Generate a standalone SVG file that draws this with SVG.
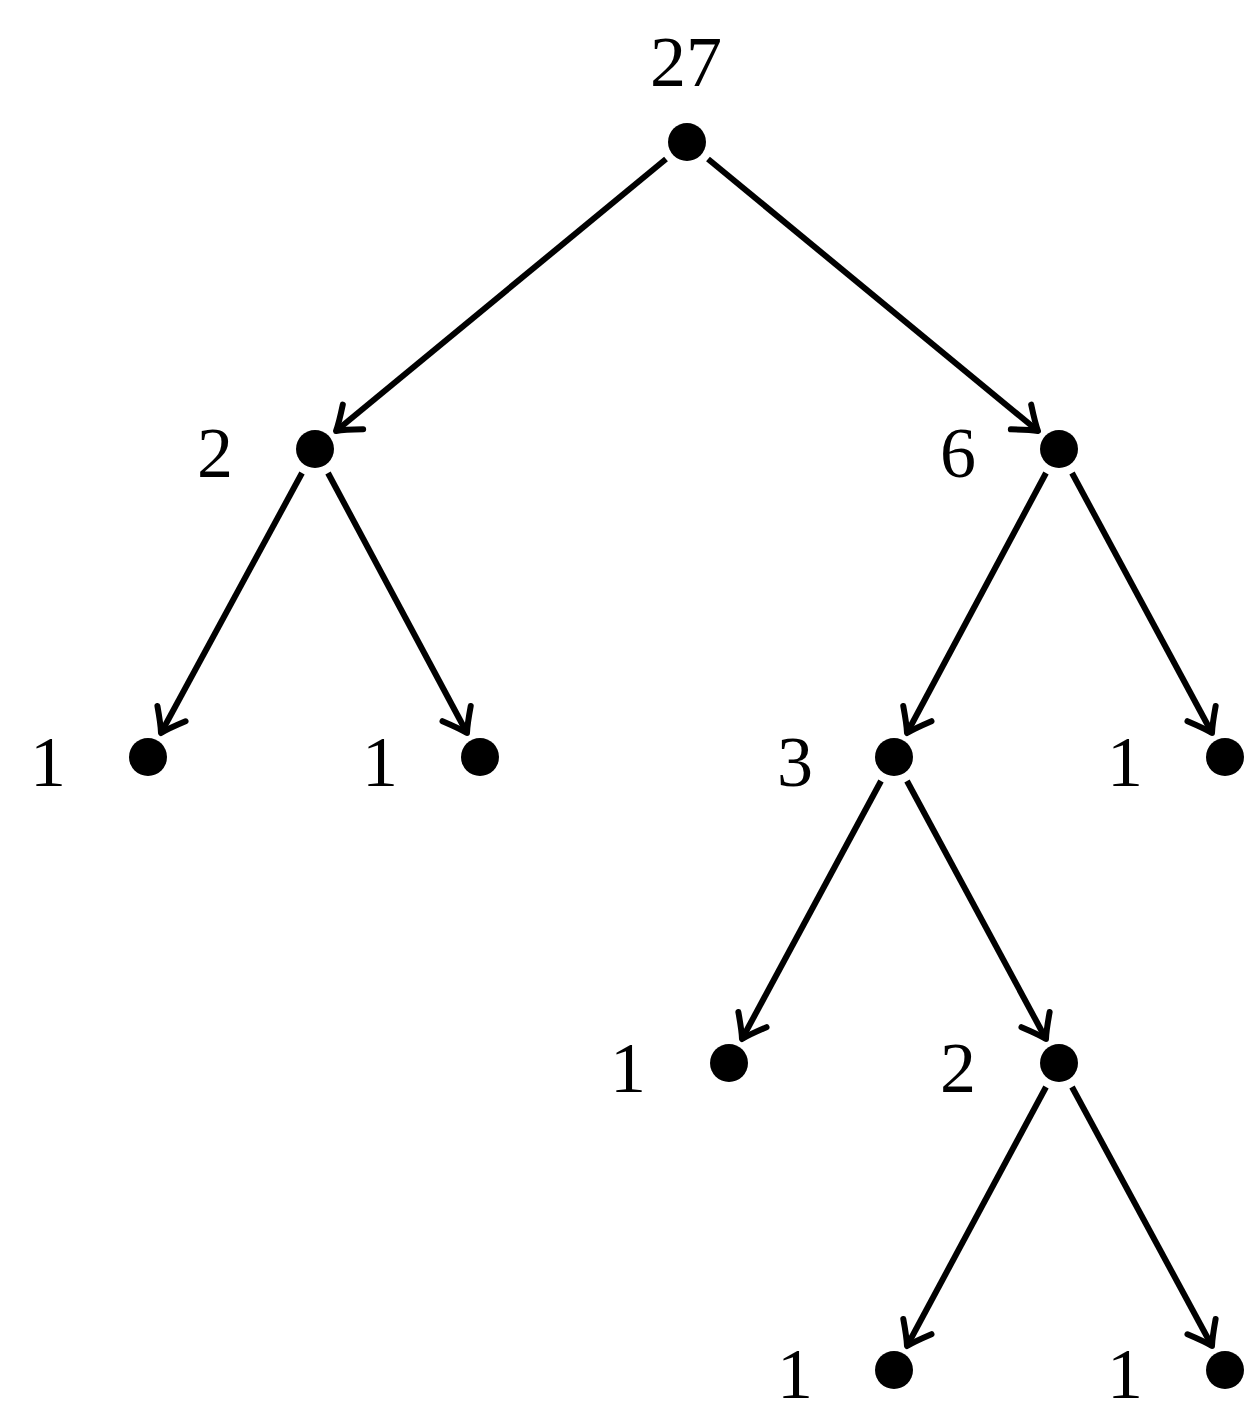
<svg xmlns="http://www.w3.org/2000/svg" width="1252" height="1426" viewBox="0 0 1252 1426">
<style>
.n{fill:#000}
.t{font-family:"Liberation Serif","DejaVu Serif",serif;font-size:72px;fill:#000}
.e{stroke:#000;stroke-width:6;fill:none;marker-end:url(#a)}
</style>
<defs>
<marker id="a" markerUnits="userSpaceOnUse" orient="auto" markerWidth="60" markerHeight="60" refX="0" refY="0" viewBox="-30 -30 60 60" overflow="visible">
<path d="M-22,-16 Q-7,-4 0,0 Q-7,4 -22,16" stroke="#000" stroke-width="6" fill="none" stroke-linecap="round" stroke-linejoin="round"/>
</marker>
</defs>
<rect width="1252" height="1426" fill="#fff"/>
<g id="connectors">
<line class="e" x1="666" y1="159" x2="336" y2="431"/>
<line class="e" x1="708" y1="159" x2="1038" y2="431"/>
<line class="e" x1="302" y1="473" x2="161" y2="733"/>
<line class="e" x1="328" y1="473" x2="467" y2="733"/>
<line class="e" x1="1046" y1="473" x2="907" y2="733"/>
<line class="e" x1="1072" y1="473" x2="1212" y2="733"/>
<line class="e" x1="881" y1="781" x2="742" y2="1039"/>
<line class="e" x1="907" y1="781" x2="1046" y2="1039"/>
<line class="e" x1="1046" y1="1087" x2="907" y2="1346"/>
<line class="e" x1="1072" y1="1087" x2="1212" y2="1346"/>
</g>
<g id="n27"><circle class="n" cx="687" cy="142" r="19"/><text class="t" x="686" y="86" text-anchor="middle">27</text></g>
<g id="nA"><circle class="n" cx="315" cy="449" r="19"/><text class="t" x="215" y="477" text-anchor="middle">2</text></g>
<g id="nB"><circle class="n" cx="1059" cy="449" r="19"/><text class="t" x="958" y="477" text-anchor="middle">6</text></g>
<g id="nC"><circle class="n" cx="148" cy="757" r="19"/><text class="t" x="48" y="786" text-anchor="middle">1</text></g>
<g id="nD"><circle class="n" cx="480" cy="757" r="19"/><text class="t" x="380" y="786" text-anchor="middle">1</text></g>
<g id="nE"><circle class="n" cx="894" cy="757" r="19"/><text class="t" x="795" y="786" text-anchor="middle">3</text></g>
<g id="nF"><circle class="n" cx="1225" cy="757" r="19"/><text class="t" x="1125" y="786" text-anchor="middle">1</text></g>
<g id="nG"><circle class="n" cx="729" cy="1063" r="19"/><text class="t" x="628" y="1092" text-anchor="middle">1</text></g>
<g id="nH"><circle class="n" cx="1059" cy="1063" r="19"/><text class="t" x="958" y="1092" text-anchor="middle">2</text></g>
<g id="nI"><circle class="n" cx="894" cy="1370" r="19"/><text class="t" x="795" y="1398" text-anchor="middle">1</text></g>
<g id="nJ"><circle class="n" cx="1225" cy="1370" r="19"/><text class="t" x="1125" y="1398" text-anchor="middle">1</text></g>
</svg>
